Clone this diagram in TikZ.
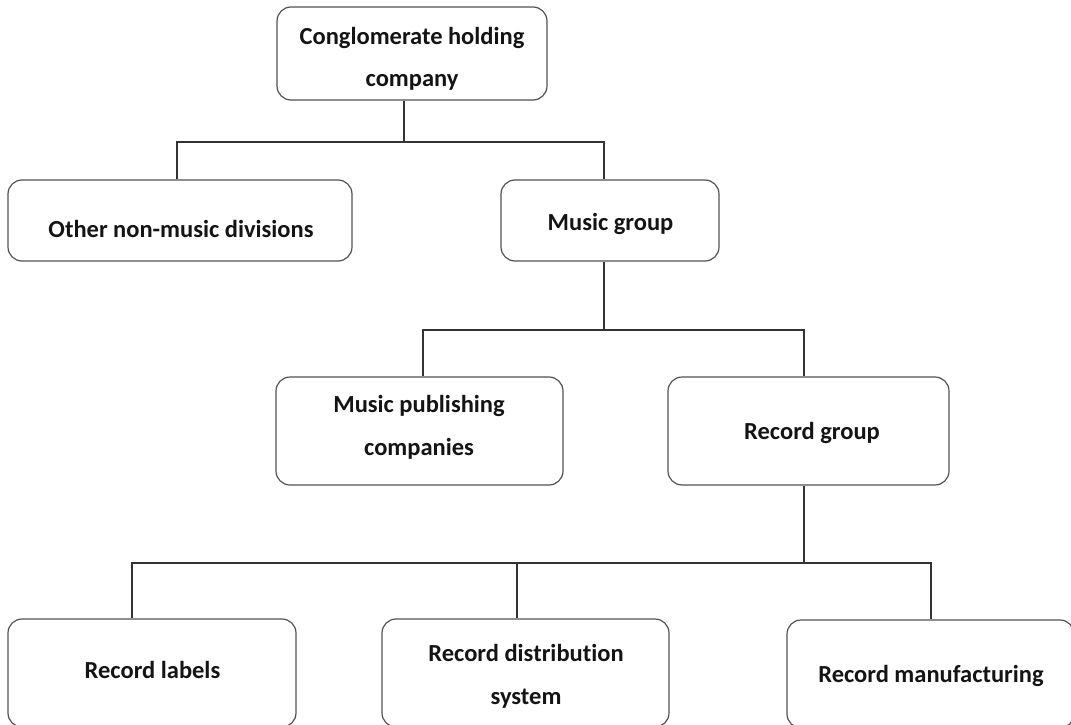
\documentclass[tikz,border=0pt]{standalone}
\usepackage{fontspec}
\setmainfont{Carlito}[Ligatures=NoCommon]
\begin{document}
\begin{tikzpicture}[x=1pt,y=-1pt,
  box/.style={draw=black!68, line width=1.2pt, rounded corners=14pt, inner sep=0pt, fill=white},
  txt/.style={font=\fontsize{24.5}{43}\selectfont\bfseries, align=center, inner sep=0pt, anchor=base, text=black!92},
  conn/.style={draw=black!80, line width=1.2pt}]
\useasboundingbox (0,0) rectangle (1071,725);
\clip (0,0) rectangle (1071,725);
% boxes
\node[box, minimum width=270pt, minimum height=93pt] (top) at (412,53.5) {};
\node[box, minimum width=344pt, minimum height=81pt] (other) at (180,220.5) {};
\node[box, minimum width=218pt, minimum height=81pt] (music) at (610,220.5) {};
\node[box, minimum width=287pt, minimum height=108pt] (pub) at (419.5,431) {};
\node[box, minimum width=281pt, minimum height=108pt] (recgroup) at (808.5,431) {};
\node[box, minimum width=288pt, minimum height=108pt] (labels) at (152,673) {};
\node[box, minimum width=287pt, minimum height=108pt] (dist) at (525.5,673) {};
\node[box, minimum width=287pt, minimum height=108pt] (manuf) at (930.5,674) {};
% texts (base = baseline of last line)
\node[txt] (ttop) at (412,87) {Conglomerate holding\\company};
\node[txt] (tother) at (181,237) {Other non-music divisions};
\node[txt] (tmusic) at (610.5,230) {Music group};
\node[txt] (tpub) at (419,455) {Music publishing\\companies};
\node[txt] (trec) at (812,439) {Record group};
\node[txt] (tlabels) at (152.5,678) {Record labels};
\node[txt] (tdist) at (526,704) {Record distribution\\system};
\node[txt] (tmanuf) at (931,682) {Record manufacturing};
% junctions
\coordinate (j0) at (404,142);
\coordinate (j1) at (177,142);
\coordinate (j2) at (604,142);
\coordinate (k0) at (604,330);
\coordinate (k1) at (423,330);
\coordinate (k2) at (804,330);
\coordinate (m0) at (804,563);
\coordinate (m1) at (132,563);
\coordinate (m2) at (517,563);
\coordinate (m3) at (931,563);
% connectors
\draw[conn] (top.south -| j0) -- (j0);
\draw[conn] (other.north -| j1) -- (j1) -- (j2) -- (music.north -| j2);
\draw[conn] (music.south -| k0) -- (k0);
\draw[conn] (pub.north -| k1) -- (k1) -- (k2) -- (recgroup.north -| k2);
\draw[conn] (recgroup.south -| m0) -- (m0);
\draw[conn] (labels.north -| m1) -- (m1) -- (m3) -- (manuf.north -| m3);
\draw[conn] (dist.north -| m2) -- (m2);
\end{tikzpicture}
\end{document}
